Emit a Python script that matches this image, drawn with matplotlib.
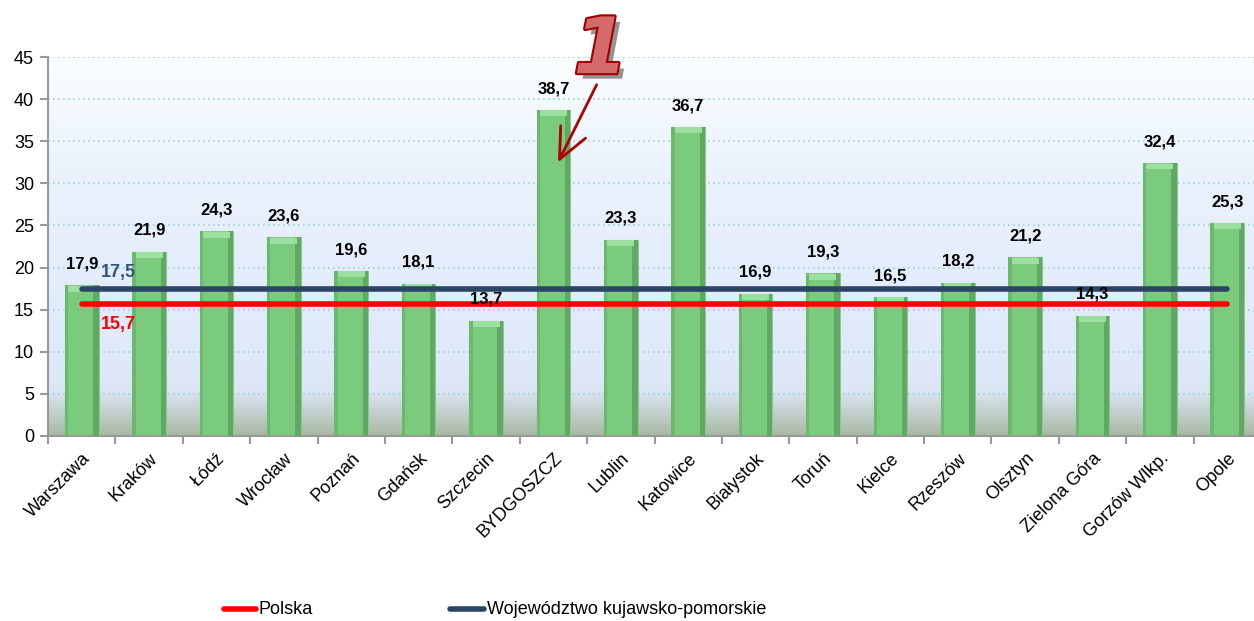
import numpy as np
import matplotlib.pyplot as plt
import matplotlib.patheffects as pe
from matplotlib.colors import LinearSegmentedColormap

cities = ["Warszawa", "Kraków", "Łódź", "Wrocław", "Poznań", "Gdańsk", "Szczecin",
          "BYDGOSZCZ", "Lublin", "Katowice", "Białystok", "Toruń", "Kielce",
          "Rzeszów", "Olsztyn", "Zielona Góra", "Gorzów Wlkp.", "Opole"]
values = [17.9, 21.9, 24.3, 23.6, 19.6, 18.1, 13.7, 38.7, 23.3, 36.7,
          16.9, 19.3, 16.5, 18.2, 21.2, 14.3, 32.4, 25.3]
polska = 15.7
kujawsko = 17.5
yticks = [0, 5, 10, 15, 20, 25, 30, 35, 40, 45]

plt.rcParams["font.family"] = ["Liberation Sans", "DejaVu Sans"]

fig = plt.figure(figsize=(12.54, 6.21), dpi=100)
ax = fig.add_axes([48 / 1254, 1 - 436 / 621, 1213 / 1254, 379 / 621])

x = np.arange(len(cities))
ax.set_xlim(-0.5, len(cities) - 0.5)
ax.set_ylim(0, 45)

# background gradient
cmap = LinearSegmentedColormap.from_list(
    "bg", [(0, "#a9b9a4"), (0.12, "#dce6f5"), (0.2, "#dfe9fb"), (0.7, "#eaf2fc"), (1, "#fbfeff")])
grad = np.linspace(0, 1, 256).reshape(-1, 1)
ax.imshow(grad, cmap=cmap, aspect="auto", origin="lower",
          extent=[-0.5, len(cities) - 0.5, 0, 45], zorder=0)

for t in yticks[1:]:
    ax.axhline(t, color="#9fd0dc", lw=1.2, ls=(0, (1, 2)), zorder=1)

# bars with a simple bevel
bw = 0.5
ax.bar(x, values, width=bw, color="#7acb7e", edgecolor="#8cc98e", lw=0.8, zorder=2)
ax.bar(x + bw / 2 - 0.04, values, width=0.08, color="#62a865", lw=0, zorder=3)
ax.bar(x - bw / 2 + 0.025, values, width=0.05, color="#6bb86e", lw=0, zorder=3)
ax.bar(x, [0.7] * len(x), bottom=np.array(values) - 0.75, width=bw - 0.1,
       color="#9be09e", lw=0, zorder=3)

for xi, v in zip(x, values):
    ax.annotate(f"{v:.1f}".replace(".", ","), (xi, v), xytext=(0, 10),
                textcoords="offset points", ha="center", va="bottom",
                fontsize=12, fontweight="bold", color="black", zorder=6)

ax.plot([x[0], x[-1]], [kujawsko, kujawsko], color="#2b4566", lw=4, solid_capstyle="round", zorder=5)
ax.plot([x[0], x[-1]], [polska, polska], color="#ff0000", lw=4, solid_capstyle="round", zorder=5)
ax.text(0.28, kujawsko + 0.9, "17,5", color="#34557e", fontsize=13, fontweight="bold",
        ha="left", va="bottom", zorder=6)
ax.text(0.28, polska - 1.5, "15,7", color="#ff0000", fontsize=13, fontweight="bold",
        ha="left", va="top", zorder=6)

# annotation "1" with arrow
ax.annotate("", xy=(7.05, 32.2), xytext=(7.66, 42.0),
            arrowprops=dict(arrowstyle="->,head_length=1.1,head_width=0.5", color="#b00000",
                            lw=2, mutation_scale=20),
            annotation_clip=False, zorder=7)
ax.text(7.7, 45.7, "1", fontsize=56, fontweight="bold", style="italic", color="#d46a6a",
        ha="center", va="center", clip_on=False, zorder=8, family="DejaVu Sans",
        path_effects=[pe.withSimplePatchShadow(offset=(4, -4), shadow_rgbFace="#888888", alpha=0.9),
                      pe.withStroke(linewidth=3, foreground="#a00000")])

ax.set_yticks(yticks)
ax.set_yticklabels([str(t) for t in yticks], fontsize=13)
ax.set_xticks(x)
ax.set_xticklabels(cities, rotation=45, ha="right", va="top", rotation_mode="anchor", fontsize=13)
ax.set_xticks(np.arange(len(cities)) - 0.5, minor=True)
ax.tick_params(axis="x", which="major", length=0, pad=10)
ax.tick_params(axis="x", which="minor", length=6, color="#999999", width=1.5)
ax.tick_params(axis="y", length=6, color="#999999", width=1.5, pad=4)
for s in ["top", "right"]:
    ax.spines[s].set_visible(False)
for s in ["left", "bottom"]:
    ax.spines[s].set_color("#999999")
    ax.spines[s].set_linewidth(1.5)

# legend
fig.add_artist(plt.Line2D([224 / 1254, 256 / 1254], [1 - 609 / 621] * 2, color="#ff0000", lw=4,
                          solid_capstyle="round"))
fig.text(259 / 1254, 1 - 609 / 621, "Polska", fontsize=13, va="center", ha="left")
fig.add_artist(plt.Line2D([450 / 1254, 484 / 1254], [1 - 609 / 621] * 2, color="#2b4566", lw=4,
                          solid_capstyle="round"))
fig.text(487 / 1254, 1 - 609 / 621, "Województwo kujawsko-pomorskie", fontsize=13, va="center", ha="left")

fig.savefig("out.png", dpi=100)
